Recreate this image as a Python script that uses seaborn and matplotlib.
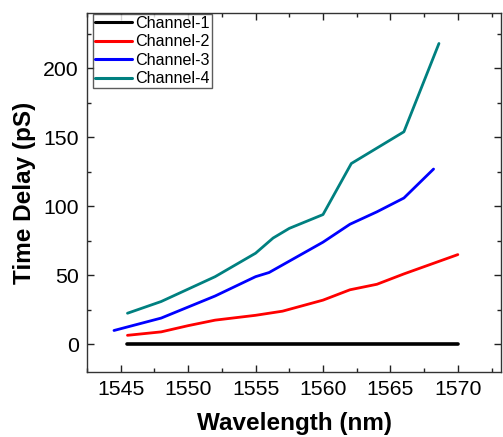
import numpy as np
import pandas as pd
import matplotlib
matplotlib.use("Agg")
import matplotlib.pyplot as plt
import seaborn as sns
from matplotlib.ticker import MultipleLocator

# values
ch1_x = [1545.5, 1570.0]
ch1_y = [0.0, 0.0]

ch2_x = [1545.5, 1548, 1550, 1552, 1555, 1557, 1560, 1562, 1564, 1566, 1568, 1570]
ch2_y = [6.5, 9, 13.5, 17.5, 21, 24, 32, 39.5, 43.5, 51, 58, 65]

ch3_x = [1544.5, 1548, 1550, 1552, 1555, 1556, 1558, 1560, 1562, 1564, 1566, 1568.2]
ch3_y = [10, 19, 27, 35, 49, 52, 63, 74, 87, 96, 106, 127]

ch4_x = [1545.5, 1548, 1550, 1552, 1555, 1556.3, 1557.5, 1560, 1562.1, 1566, 1568.6]
ch4_y = [22.5, 31, 40, 49, 66, 77, 84, 94, 131, 154, 218]

channels = ["Channel-1", "Channel-2", "Channel-3", "Channel-4"]
colors = ["#000000", "#FF0000", "#0000FF", "#008080"]
widths = [2.6, 2.0, 2.0, 2.0]

frames = []
for name, xs, ys in zip(channels, [ch1_x, ch2_x, ch3_x, ch4_x], [ch1_y, ch2_y, ch3_y, ch4_y]):
    frames.append(pd.DataFrame({"wl": xs, "delay": ys, "channel": name}))
df = pd.concat(frames, ignore_index=True)

sns.set_style("ticks")
plt.rcParams["font.family"] = ["Liberation Sans", "DejaVu Sans"]
plt.rcParams["text.color"] = "black"
plt.rcParams["axes.labelcolor"] = "black"

fig = plt.figure(figsize=(5.03, 4.37), dpi=100)
ax = fig.add_axes([0.173, 0.149, 0.823, 0.821])

for name, col, lw in zip(channels, colors, widths):
    sns.lineplot(data=df[df["channel"] == name], x="wl", y="delay", color=col,
                 linewidth=lw, sort=False, estimator=None, label=name, ax=ax)

ax.set_xlim(1542.5, 1573.2)
ax.set_ylim(-20, 240)
ax.xaxis.set_major_locator(MultipleLocator(5))
ax.xaxis.set_minor_locator(MultipleLocator(2.5))
ax.yaxis.set_major_locator(MultipleLocator(50))
ax.yaxis.set_minor_locator(MultipleLocator(25))
ax.tick_params(which="both", direction="in", top=True, right=True, width=1.0, colors="#222222")
ax.tick_params(which="major", length=5, labelsize=15.3, labelcolor="black", pad=6)
ax.tick_params(which="minor", length=3)
for sp in ax.spines.values():
    sp.set_linewidth(1.0)
    sp.set_color("#333333")

ax.set_xlabel("Wavelength (nm)", fontsize=17.5, fontweight="bold", labelpad=9)
ax.set_ylabel("Time Delay (pS)", fontsize=17.5, fontweight="bold", labelpad=5)

leg = ax.legend(loc="upper left", bbox_to_anchor=(0.013, 1.0), fontsize=11.6,
                frameon=True, fancybox=False, handlelength=2.3, handletextpad=0.2,
                borderpad=0.12, labelspacing=0.22, borderaxespad=0.05)
leg.get_frame().set_edgecolor("#333333")
leg.get_frame().set_linewidth(1.0)
for line in leg.get_lines():
    line.set_linewidth(2.2)

fig.savefig("out.png", dpi=100)
